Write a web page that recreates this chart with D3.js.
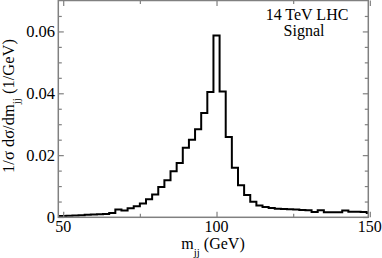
<!DOCTYPE html>
<html>
<head>
<meta charset="utf-8">
<script src="https://cdn.jsdelivr.net/npm/d3@7"></script>
<style>
  body { margin: 0; background: #fff; }
  svg text { font-family: "Liberation Serif", "DejaVu Serif", serif; fill: #000; }
</style>
</head>
<body>
<div id="chart"></div>
<script>
// histogram bin left edges (GeV), 2 GeV wide
const binEdges = [47, 49, 51, 53, 55, 57, 59, 61, 63, 65,
  67, 69, 71, 73, 75, 77, 79, 81, 83, 85,
  87, 89, 91, 93, 95, 97, 99, 101, 103, 105,
  107, 109, 111, 113, 115, 117, 119, 121, 123, 125,
  127, 129, 131, 133, 135, 137, 139, 141, 143, 145,
  147, 149, 151];
// 1/sigma dsigma/dm_jj per bin
const signal = [0.0003, 0.0003, 0.0004, 0.0005, 0.0006, 0.0007, 0.0008, 0.0009, 0.0010, 0.0013,
  0.0024, 0.0021, 0.0028, 0.0035, 0.0044, 0.0057, 0.0073, 0.0097, 0.0119, 0.0148,
  0.0175, 0.0224, 0.0250, 0.0284, 0.0336, 0.0404, 0.0587, 0.0406, 0.0259, 0.0159,
  0.0103, 0.0071, 0.0049, 0.0037, 0.0032, 0.0029, 0.0027, 0.0026, 0.0025, 0.0024,
  0.0023, 0.0022, 0.0016, 0.0022, 0.0015, 0.0015, 0.0015, 0.0021, 0.0017, 0.0017,
  0.0016, 0.0013];
const xMajor = [50, 100, 150];
const xMinor = [75, 125];
const yMajor = [0, 0.02, 0.04, 0.06];
const yMinor = [0.005, 0.01, 0.015, 0.025, 0.03, 0.035, 0.045, 0.05, 0.055, 0.065];

const W = 382, H = 258;
const box = { left: 58.3, right: 368.3, top: 0.5, bottom: 217.3 };
const frameColor = "#808080";

const svg = d3.select("#chart").append("svg")
  .attr("width", W).attr("height", H);

const x = d3.scaleLinear().domain([48.4, 149.5]).range([box.left, box.right]);
const y = d3.scaleLinear().domain([0, 0.07]).range([217, box.top]);

svg.append("clipPath").attr("id", "plot")
  .append("rect")
  .attr("x", box.left).attr("y", box.top)
  .attr("width", box.right - box.left).attr("height", box.bottom - box.top);

// step histogram
const pts = signal.map((v, i) => [binEdges[i], v]);
pts.push([binEdges[binEdges.length - 1], signal[signal.length - 1]]);
const line = d3.line().x(d => x(d[0])).y(d => y(d[1])).curve(d3.curveStepAfter);
svg.append("path")
  .attr("clip-path", "url(#plot)")
  .attr("d", line(pts))
  .attr("fill", "none")
  .attr("stroke", "#000")
  .attr("stroke-width", 2);

// inward ticks on all four sides
function ticks(g, axis, vals, len) {
  g.call(axis.tickValues(vals).tickSize(-len).tickFormat(""))
    .call(s => s.select(".domain").remove())
    .selectAll("line").attr("stroke", frameColor).attr("stroke-width", 1.2);
}
const gB = svg.append("g").attr("transform", `translate(0,${box.bottom})`);
ticks(gB.append("g"), d3.axisBottom(x), xMajor, 5.5);
ticks(gB.append("g"), d3.axisBottom(x), xMinor, 3.5);
const gT = svg.append("g").attr("transform", `translate(0,${box.top})`);
ticks(gT.append("g"), d3.axisTop(x), xMajor, 5.5);
ticks(gT.append("g"), d3.axisTop(x), xMinor, 3.5);
const gL = svg.append("g").attr("transform", `translate(${box.left},0)`);
ticks(gL.append("g"), d3.axisLeft(y), yMajor, 5.5);
ticks(gL.append("g"), d3.axisLeft(y), yMinor, 3.5);
const gR = svg.append("g").attr("transform", `translate(${box.right},0)`);
ticks(gR.append("g"), d3.axisRight(y), yMajor, 5.5);
ticks(gR.append("g"), d3.axisRight(y), yMinor, 3.5);

// frame
svg.append("rect")
  .attr("x", box.left).attr("y", box.top)
  .attr("width", box.right - box.left).attr("height", box.bottom - box.top)
  .attr("fill", "none").attr("stroke", frameColor).attr("stroke-width", 1.5);

// tick labels
svg.append("g").selectAll("text").data(xMajor).join("text")
  .attr("x", d => x(d)).attr("y", 232)
  .attr("text-anchor", "middle").attr("font-size", 16)
  .text(d => d);
svg.append("g").selectAll("text").data(yMajor).join("text")
  .attr("x", 55).attr("y", d => y(d) + 5.5)
  .attr("text-anchor", "end").attr("font-size", 16.5)
  .text(d => d === 0 ? "0" : d.toFixed(2));

// axis titles
const xt = svg.append("text").attr("x", 213).attr("y", 249)
  .attr("text-anchor", "middle").attr("font-size", 16);
xt.append("tspan").text("m");
xt.append("tspan").attr("dy", 7).attr("font-size", 11).text("jj");
xt.append("tspan").attr("dy", -7).text(" (GeV)");

const yt = svg.append("text")
  .attr("transform", "translate(14,106) rotate(-90)")
  .attr("text-anchor", "middle").attr("font-size", 16.5);
yt.append("tspan").text("1/σ  dσ/dm");
yt.append("tspan").attr("dy", 6).attr("font-size", 11).text("jj");
yt.append("tspan").attr("dy", -6).text(" (1/GeV)");

// legend text
svg.append("text").attr("x", 307).attr("y", 20)
  .attr("text-anchor", "middle").attr("font-size", 16).text("14 TeV LHC");
svg.append("text").attr("x", 304).attr("y", 35.5)
  .attr("text-anchor", "middle").attr("font-size", 16).text("Signal");
</script>
</body>
</html>
